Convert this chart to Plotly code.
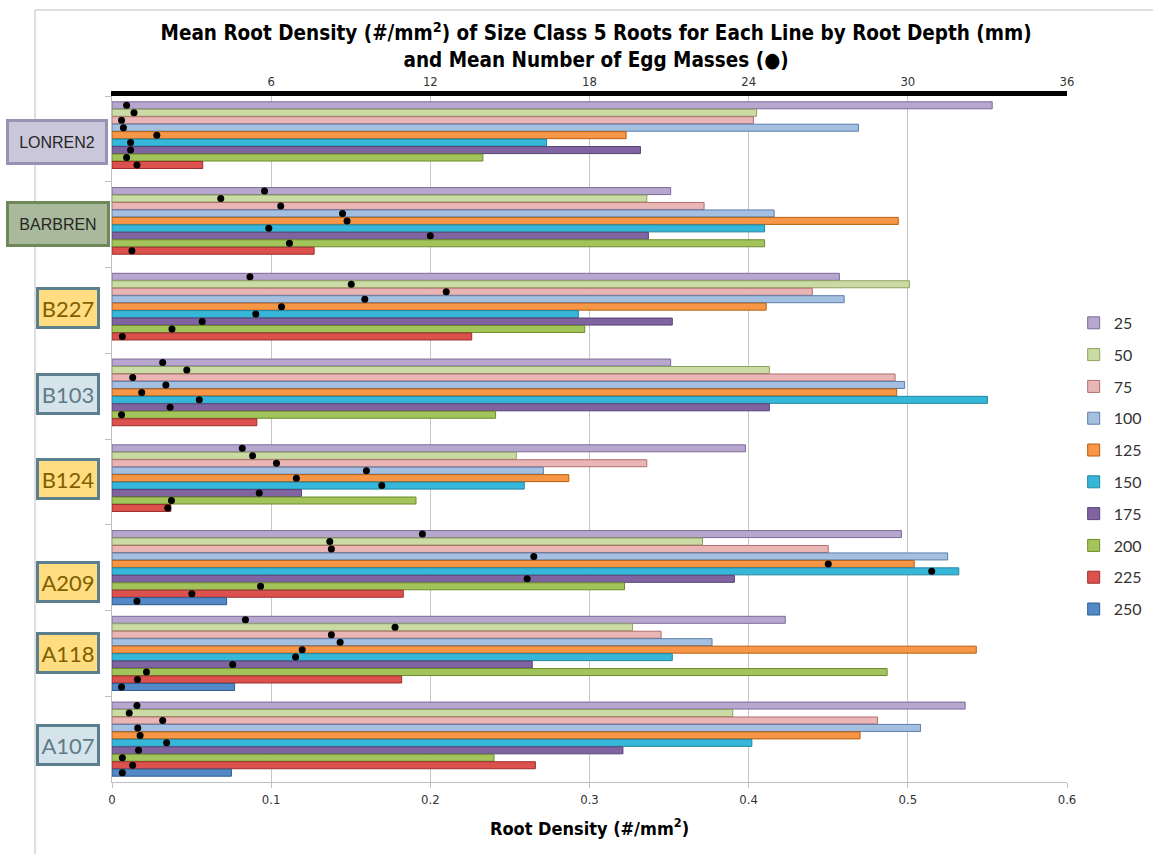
import plotly.graph_objects as go

# ---------------- data ----------------
lines = ["LONREN2", "BARBREN", "B227", "B103", "B124", "A209", "A118", "A107"]
depths = ["25", "50", "75", "100", "125", "150", "175", "200", "225", "250"]

# root density (#/mm2), one list per depth, ordered as `lines`
d25  = [0.553, 0.351, 0.457, 0.351, 0.398, 0.496, 0.423, 0.536]
d50  = [0.405, 0.336, 0.501, 0.413, 0.254, 0.371, 0.327, 0.390]
d75  = [0.403, 0.372, 0.440, 0.492, 0.336, 0.450, 0.345, 0.481]
d100 = [0.469, 0.416, 0.460, 0.498, 0.271, 0.525, 0.377, 0.508]
d125 = [0.323, 0.494, 0.411, 0.493, 0.287, 0.504, 0.543, 0.470]
d150 = [0.273, 0.410, 0.293, 0.550, 0.259, 0.532, 0.352, 0.402]
d175 = [0.332, 0.337, 0.352, 0.413, 0.119, 0.391, 0.264, 0.321]
d200 = [0.233, 0.410, 0.297, 0.241, 0.191, 0.322, 0.487, 0.240]
d225 = [0.057, 0.127, 0.226, 0.091, 0.037, 0.183, 0.182, 0.266]
d250 = [None, None, None, None, None, 0.072, 0.077, 0.075]

# mean number of egg masses (top axis), one list per depth
e25  = [0.55, 5.75, 5.20, 1.91, 4.91, 11.70, 5.03, 0.94]
e50  = [0.83, 4.10, 9.02, 2.82, 5.30, 8.21, 10.67, 0.65]
e75  = [0.36, 6.36, 12.60, 0.78, 6.20, 8.27, 8.27, 1.91]
e100 = [0.43, 8.69, 9.53, 2.03, 9.59, 15.90, 8.60, 0.97]
e125 = [1.69, 8.86, 6.39, 1.12, 6.95, 27.00, 7.17, 1.06]
e150 = [0.70, 5.91, 5.42, 3.29, 10.17, 30.90, 6.92, 2.06]
e175 = [0.70, 12.00, 3.40, 2.19, 5.55, 15.65, 4.55, 1.00]
e200 = [0.55, 6.69, 2.26, 0.36, 2.24, 5.60, 1.30, 0.39]
e225 = [0.94, 0.75, 0.39, None, 2.10, 3.01, 0.96, 0.78]
e250 = [None, None, None, None, None, 0.94, 0.36, 0.39]

density = [d25, d50, d75, d100, d125, d150, d175, d200, d225, d250]
eggs = [e25, e50, e75, e100, e125, e150, e175, e200, e225, e250]

bottom_ticks = [0, 0.1, 0.2, 0.3, 0.4, 0.5, 0.6]
top_ticks = [6, 12, 18, 24, 30, 36]

# ---------------- style ----------------
fill = ["#b7a7cf", "#cbdba6", "#e9b6b5", "#a5bfe0", "#f79646",
        "#36b7d9", "#8064a2", "#a2c45a", "#dc514e", "#5489c8"]
edge = ["#7d6a99", "#8da35d", "#b0706e", "#5b7fae", "#b65f12",
        "#23859f", "#574374", "#6d8c2c", "#9b2f2c", "#2c5b8f"]

yellow = dict(bg="#ffdd80", bd="#5b7f8f", fc="#7f6000", size=22, fam="Lato", w=54, h=32, x=-0.046)
blue = dict(bg="#d5e3ea", bd="#5b7f8f", fc="#5e7b88", size=22, fam="Lato", w=54, h=32, x=-0.046)
label_style = {
    "LONREN2": dict(bg="#cbc7da", bd="#9893b5", fc="#262626", size=16, fam="Liberation Sans", w=92, h=36, x=-0.058),
    "BARBREN": dict(bg="#a9b99b", bd="#6e8859", fc="#262626", size=16, fam="Liberation Sans", w=94, h=36, x=-0.057),
    "B227": yellow, "B103": blue, "B124": yellow,
    "A209": yellow, "A118": yellow, "A107": blue,
}
label_shift = {"LONREN2": -3, "BARBREN": 1, "B227": 2, "B103": 2, "B124": 3,
               "A209": -14, "A118": 0, "A107": -6}

narrow = "Liberation Sans Narrow, DejaVu Sans Condensed, Arial Narrow, sans-serif"

fig = go.Figure()

for i, dep in enumerate(depths):
    fig.add_trace(go.Bar(
        y=lines, x=density[i], orientation="h", name=dep,
        marker=dict(color=fill[i], line=dict(color=edge[i], width=1)),
        legendgroup=dep,
    ))

for i, dep in enumerate(depths):
    fig.add_trace(go.Scatter(
        y=lines, x=eggs[i], xaxis="x2", orientation="h", mode="markers",
        marker=dict(color="black", size=7), showlegend=False,
        legendgroup=dep, hoverinfo="x+y",
    ))

annotations = []
for ln in lines:
    s = label_style[ln]
    annotations.append(dict(
        x=s["x"], xref="paper", y=ln, yref="y",
        text=ln, showarrow=False, xanchor="center", yanchor="middle",
        font=dict(family=s["fam"], size=s["size"], color=s["fc"]),
        bgcolor=s["bg"], bordercolor=s["bd"], borderwidth=3, borderpad=2,
        width=s["w"], height=s["h"], align="center", yshift=label_shift[ln],
    ))

fig.update_layout(
    width=1153, height=854,
    margin=dict(l=112, r=86, t=96, b=72, autoexpand=False),
    paper_bgcolor="white", plot_bgcolor="white",
    barmode="group", bargap=0.13, bargroupgap=0.06,
    scattermode="group", scattergap=0.13,
    title=dict(
        text="Mean Root Density (#/mm<sup>2</sup>) of Size Class 5 Roots for Each Line by Root Depth (mm)"
             "<br>and Mean Number of Egg Masses (\u25CF)",
        x=0.517, xref="container", xanchor="center",
        y=0.953, yref="container", yanchor="top",
        font=dict(family=narrow, size=20.5, color="black", weight="bold"),
    ),
    xaxis=dict(
        range=[0, 0.6], tickvals=bottom_ticks, ticktext=[str(t) for t in bottom_ticks],
        showgrid=True, gridcolor="#c6c6c6", gridwidth=1,
        showline=True, linecolor="#bfbfbf", linewidth=1,
        ticks="outside", tickcolor="#bfbfbf", ticklen=5,
        tickfont=dict(family=narrow, size=13, color="#333333"),
        zeroline=False,
        title=dict(text="<b>Root Density (#/mm<sup>2</sup>)</b>", standoff=16,
                   font=dict(family=narrow, size=18, color="black")),
    ),
    xaxis2=dict(
        range=[0, 36], overlaying="x", side="top", anchor="y",
        tickvals=top_ticks, ticktext=[str(t) for t in top_ticks],
        showgrid=False, zeroline=False,
        showline=True, linecolor="black", linewidth=5, ticks="",
        tickfont=dict(family=narrow, size=13, color="#333333"),
    ),
    yaxis=dict(
        categoryorder="array", categoryarray=lines, autorange="reversed",
        showticklabels=False, showgrid=False, zeroline=False,
        showline=True, linecolor="#bfbfbf", linewidth=1,
        ticks="outside", tickson="boundaries", tickcolor="#bfbfbf", ticklen=6,
    ),
    legend=dict(
        x=1.007, xanchor="left", y=0.694, yanchor="top",
        font=dict(family="Lato, Open Sans, sans-serif", size=16, color="#333333"),
        traceorder="grouped", tracegroupgap=8,
        bgcolor="rgba(0,0,0,0)", itemwidth=30,
    ),
    annotations=annotations,
    shapes=[dict(type="rect", xref="paper", yref="paper",
                 x0=-0.0806, x1=1.2, y0=-0.2, y1=1.1254,
                 line=dict(color="#bfbfbf", width=1), fillcolor="rgba(0,0,0,0)",
                 layer="below")],
    showlegend=True,
)

fig.write_html("out.html", config={"displayModeBar": False},
               post_script="document.body.style.margin='0';")
